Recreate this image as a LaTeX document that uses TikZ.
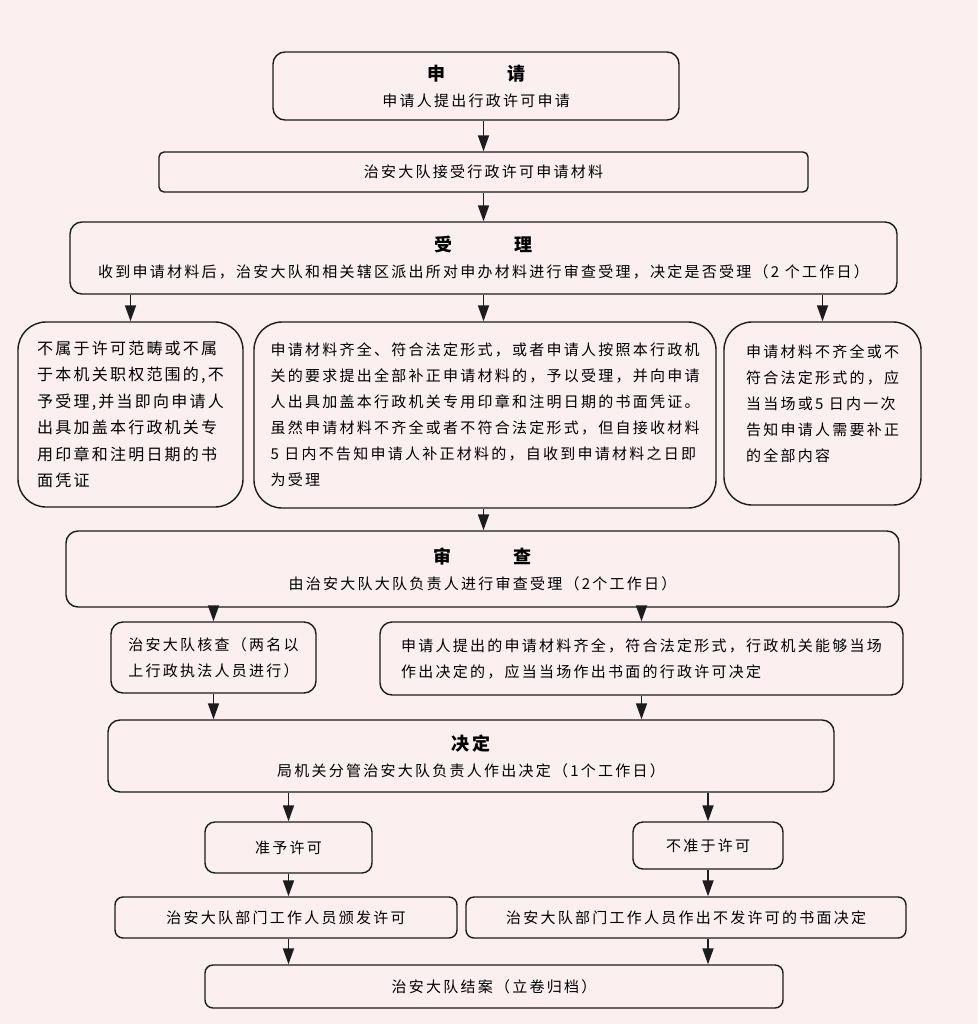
\documentclass[tikz,border=0pt]{standalone}
\usepackage{fontspec}
\setmainfont{Noto Sans CJK SC}
\newfontfamily\zh[LetterSpace=15]{Noto Sans CJK SC}
\newfontfamily\zhwide[LetterSpace=14]{Noto Sans CJK SC}
\usetikzlibrary{arrows.meta}
\definecolor{paper}{HTML}{FCEFEF}
\definecolor{ink}{HTML}{1C1C1C}
\newcommand{\boxtitle}[2]{{\fontsize{18}{22}\selectfont\bfseries #1\hspace{62pt}#2}}
\tikzset{
  >={Triangle[length=16pt,width=11pt]},
  box/.style={draw=ink, line width=1.4pt, rounded corners=12pt, inner sep=0pt,
    align=center, font=\zh\fontsize{15}{26}\selectfont},
  tall/.style={box, rounded corners=28pt, align=left},
  flow/.style={->, draw=ink, line width=1.7pt},
}
\begin{document}
\begin{tikzpicture}[x=1pt,y=-1pt]

    \fill[paper] (0,0) rectangle (978,1024);

    \node[box, minimum width=406pt, minimum height=68pt] (sq) at (476,86)
        {\boxtitle{申}{请}\\申请人提出行政许可申请};
    \node[box, rounded corners=5pt, minimum width=649pt, minimum height=40pt] (js) at (483.5,172)
        {治安大队接受行政许可申请材料};
    \node[box, minimum width=827pt, minimum height=72pt] (sl) at (483.5,258)
        {\boxtitle{受}{理}\\收到申请材料后，治安大队和相关辖区派出所对申办材料进行审查受理，决定是否受理（2 个工作日）};

    \node[tall, font=\zhwide\fontsize{16}{26.5}\selectfont, minimum width=225pt, minimum height=185pt] (bsl) at (130.5,414.5)
        {不属于许可范畴或不属\\于本机关职权范围的,不\\予受理,并当即向申请人\\出具加盖本行政机关专\\用印章和注明日期的书\\面凭证};
    \node[tall, minimum width=462pt, minimum height=186pt] (ysl) at (485,415)
        {申请材料齐全、符合法定形式，或者申请人按照本行政机\\关的要求提出全部补正申请材料的，予以受理，并向申请\\人出具加盖本行政机关专用印章和注明日期的书面凭证。\\虽然申请材料不齐全或者不符合法定形式，但自接收材料\\5 日内不告知申请人补正材料的，自收到申请材料之日即\\为受理};
    \node[tall, minimum width=197pt, minimum height=183pt] (bz5) at (822.5,413.5)
        {申请材料不齐全或不\\符合法定形式的，应\\当当场或5 日内一次\\告知申请人需要补正\\的全部内容\\[-6pt]~};

    \node[box, minimum width=833pt, minimum height=76pt] (sc) at (482.5,569)
        {\boxtitle{审}{查}\\由治安大队大队负责人进行审查受理（2个工作日）};
    \node[box, align=left, minimum width=205pt, minimum height=71pt] (hc) at (213.5,657.5)
        {治安大队核查（两名以\\上行政执法人员进行）};
    \node[box, align=left, minimum width=523pt, minimum height=73pt] (dc) at (641.5,658.5)
        {申请人提出的申请材料齐全，符合法定形式，行政机关能够当场\\作出决定的，应当当场作出书面的行政许可决定};

    \node[box, minimum width=726pt, minimum height=72pt] (jd) at (471,756)
        {{\fontsize{18}{22}\selectfont\bfseries 决定}\\局机关分管治安大队负责人作出决定（1个工作日）};
    \node[box, rounded corners=10pt, minimum width=167pt, minimum height=51pt] (zy) at (288.5,847.5)
        {准予许可};
    \node[box, rounded corners=10pt, minimum width=150pt, minimum height=47pt] (bz) at (708,845.5)
        {不准于许可};
    \node[box, rounded corners=8pt, minimum width=342pt, minimum height=41pt] (bf) at (286,917.5)
        {治安大队部门工作人员颁发许可};
    \node[box, rounded corners=8pt, minimum width=440pt, minimum height=41pt] (bfx) at (686,917.5)
        {治安大队部门工作人员作出不发许可的书面决定};
    \node[box, rounded corners=8pt, minimum width=578pt, minimum height=43pt] (ja) at (494,986.5)
        {治安大队结案（立卷归档）};

    \draw[flow] (sq.south -| js.north) -- (js.north);
    \draw[flow] (js.south) -- (sl.north);
    \draw[flow] (sl.south -| bsl.north) -- (bsl.north);
    \draw[flow] (sl.south) -- (sl.south |- ysl.north);
    \draw[flow] (sl.south -| bz5.north) -- (bz5.north);
    \draw[flow] (ysl.south -| sl.south) -- (sc.north -| sl.south);
    \draw[flow] (sc.south -| hc.north) -- (hc.north);
    \draw[flow] (sc.south -| dc.north) -- (dc.north);
    \draw[flow] (hc.south) -- (hc.south |- jd.north);
    \draw[flow] (dc.south) -- (dc.south |- jd.north);
    \draw[flow] (jd.south -| zy.north) -- (zy.north);
    \draw[flow] (jd.south -| bz.north) -- (bz.north);
    \draw[flow] (zy.south) -- (zy.south |- bf.north);
    \draw[flow] (bz.south) -- (bz.south |- bfx.north);
    \draw[flow] (bf.south -| zy.south) -- (ja.north -| zy.south);
    \draw[flow] (bfx.south -| bz.south) -- (ja.north -| bz.south);
\end{tikzpicture}
\end{document}
